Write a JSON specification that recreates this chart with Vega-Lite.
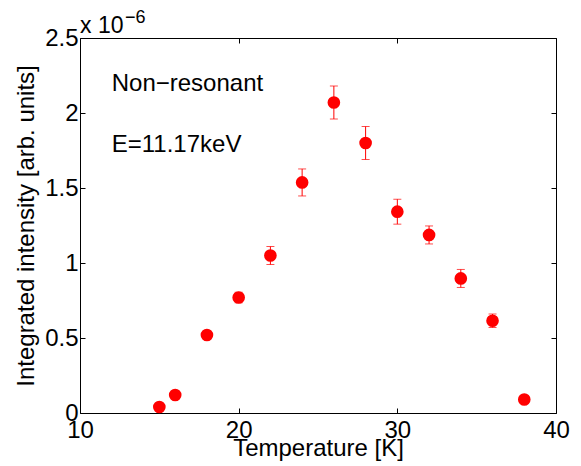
{
  "$schema": "https://vega.github.io/schema/vega-lite/v6.json",
  "autosize": "none",
  "padding": {"left": 80, "top": 38, "right": 25, "bottom": 53},
  "width": 476,
  "height": 375,
  "background": "white",
  "config": {
    "font": "Liberation Sans",
    "view": {"stroke": null},
    "axis": {
      "domainColor": "black",
      "domainWidth": 1,
      "tickColor": "black",
      "tickWidth": 1,
      "tickSize": -5,
      "grid": false,
      "labelFont": "Liberation Sans",
      "labelFontSize": 24,
      "labelColor": "black",
      "titleFont": "Liberation Sans",
      "titleFontSize": 24,
      "titleFontWeight": "normal",
      "titleColor": "black"
    }
  },
  "layer": [
    {
      "data": {
        "values": [
          {"temperature": 15, "intensity": 0.04e-6, "err": 0.01e-6},
          {"temperature": 16, "intensity": 0.12e-6, "err": 0.015e-6},
          {"temperature": 18, "intensity": 0.52e-6, "err": 0.02e-6},
          {"temperature": 20, "intensity": 0.77e-6, "err": 0.035e-6},
          {"temperature": 22, "intensity": 1.05e-6, "err": 0.06e-6},
          {"temperature": 24, "intensity": 1.537e-6, "err": 0.09e-6},
          {"temperature": 26, "intensity": 2.07e-6, "err": 0.11e-6},
          {"temperature": 28, "intensity": 1.80e-6, "err": 0.11e-6},
          {"temperature": 30, "intensity": 1.342e-6, "err": 0.083e-6},
          {"temperature": 32, "intensity": 1.187e-6, "err": 0.06e-6},
          {"temperature": 34, "intensity": 0.897e-6, "err": 0.06e-6},
          {"temperature": 36, "intensity": 0.615e-6, "err": 0.045e-6},
          {"temperature": 38, "intensity": 0.09e-6, "err": 0.01e-6}
        ]
      },
      "layer": [
        {
          "mark": {"type": "errorbar", "color": "#ff0000", "thickness": 1, "ticks": {"size": 8, "thickness": 1, "color": "#ff0000"}},
          "encoding": {
            "x": {
              "field": "temperature", "type": "quantitative",
              "scale": {"domain": [10, 40], "nice": false, "zero": false},
              "axis": {"orient": "bottom", "values": [10, 20, 30, 40], "title": "Temperature [K]", "labelPadding": 10, "titlePadding": -6, "labelFlush": false}
            },
            "y": {
              "field": "intensity", "type": "quantitative",
              "scale": {"domain": [0, 2.5e-6], "nice": false},
              "axis": {"orient": "left", "values": [0, 5e-7, 1e-6, 1.5e-6, 2e-6, 2.5e-6], "labelExpr": "format(datum.value*1e6, '.1~f')", "title": "Integrated intensity [arb. units]", "labelPadding": 7, "titlePadding": 6, "labelFlush": false}
            },
            "yError": {"field": "err"}
          }
        },
        {
          "mark": {"type": "circle", "size": 160, "color": "#ff0000", "opacity": 1},
          "encoding": {
            "x": {"field": "temperature", "type": "quantitative", "axis": {"orient": "top", "values": [10, 20, 30, 40], "labels": false, "title": null}},
            "y": {"field": "intensity", "type": "quantitative", "axis": {"orient": "right", "values": [0, 5e-7, 1e-6, 1.5e-6, 2e-6, 2.5e-6], "labels": false, "title": null}}
          }
        }
      ],
      "resolve": {"axis": {"x": "independent", "y": "independent"}}
    },
    {
      "data": {"values": [{}]},
      "mark": {"type": "text", "text": "Non−resonant", "align": "left", "baseline": "alphabetic", "fontSize": 24, "color": "black"},
      "encoding": {
        "x": {"datum": 12, "type": "quantitative", "axis": null},
        "y": {"datum": 2.144e-6, "type": "quantitative", "axis": null}
      }
    },
    {
      "data": {"values": [{}]},
      "mark": {"type": "text", "text": "E=11.17keV", "align": "left", "baseline": "alphabetic", "fontSize": 24, "color": "black"},
      "encoding": {
        "x": {"datum": 12, "type": "quantitative", "axis": null},
        "y": {"datum": 1.74e-6, "type": "quantitative", "axis": null}
      }
    },
    {
      "data": {"values": [{}]},
      "mark": {"type": "text", "text": "x 10", "align": "left", "baseline": "alphabetic", "fontSize": 23, "dy": -5, "color": "black"},
      "encoding": {
        "x": {"datum": 10, "type": "quantitative", "axis": null},
        "y": {"datum": 2.5e-6, "type": "quantitative", "axis": null}
      }
    },
    {
      "data": {"values": [{}]},
      "mark": {"type": "text", "text": "−6", "align": "left", "baseline": "alphabetic", "fontSize": 18, "dx": 45, "dy": -15, "color": "black"},
      "encoding": {
        "x": {"datum": 10, "type": "quantitative", "axis": null},
        "y": {"datum": 2.5e-6, "type": "quantitative", "axis": null}
      }
    }
  ],
  "resolve": {"axis": {"x": "independent", "y": "independent"}}
}
